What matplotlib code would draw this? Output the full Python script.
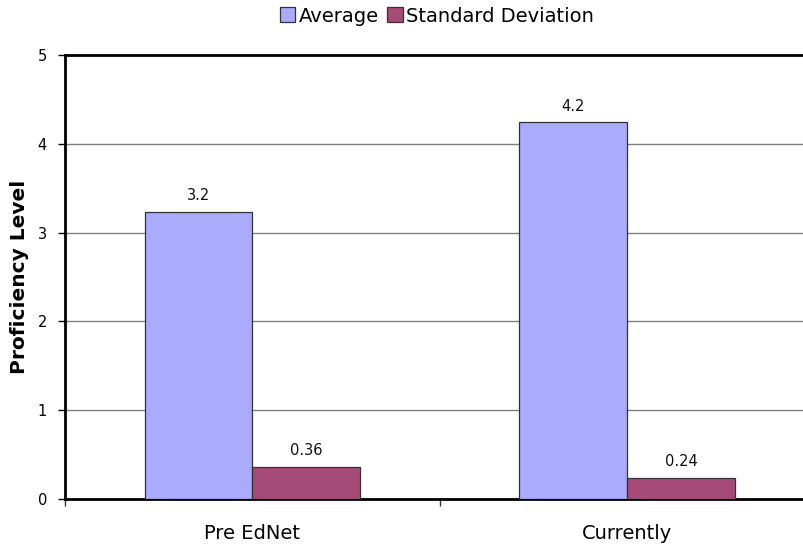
import matplotlib
matplotlib.use("Agg")
import matplotlib.pyplot as plt
import numpy as np

categories = ["Pre EdNet", "Currently"]
average = [3.23, 4.24]
std_dev = [0.36, 0.24]
series_names = ["Average", "Standard Deviation"]
colors = ["#AAAAFF", "#A64B77"]

plt.rcParams["font.family"] = ["DejaVu Sans"]

fig = plt.figure(figsize=(8.04, 5.5), dpi=100)
ax = fig.add_axes([65 / 804, 1 - 499 / 550, 750 / 804, 444 / 550])

x = np.arange(len(categories))
w = 0.288
b1 = ax.bar(x - w / 2, average, w, color=colors[0], edgecolor="#333333",
            linewidth=0.9, label=series_names[0], zorder=3)
b2 = ax.bar(x + w / 2, std_dev, w, color=colors[1], edgecolor="#333333",
            linewidth=0.9, label=series_names[1], zorder=3)

for bars, vals in ((b1, average), (b2, std_dev)):
    for r, v in zip(bars, vals):
        ax.text(r.get_x() + r.get_width() / 2, v + 0.1,
                f"{v:.2f}".rstrip("0") if v < 1 else f"{v:.1f}",
                ha="center", va="bottom", fontsize=10.5, color="#111111")

ax.set_xlim(-0.5, 1.5)
ax.set_ylim(0, 5)
ax.set_yticks(range(6))
ax.yaxis.grid(True, color="#808080", linewidth=1.0, zorder=0)
ax.set_axisbelow(True)

ax.set_xticks([-0.5, 0.5, 1.5])
ax.set_xticklabels([])
ax.set_xticks(x, minor=True)
ax.set_xticklabels(categories, minor=True, fontsize=14)
ax.tick_params(axis="x", which="minor", length=0, pad=18)
ax.tick_params(axis="x", which="major", length=5, width=1, color="#333333")
ax.tick_params(axis="y", length=5, width=1, labelsize=10.5, pad=8)

for side in ("left", "bottom", "top"):
    ax.spines[side].set_linewidth(2)
    ax.spines[side].set_color("black")
ax.spines["right"].set_visible(False)

ax.set_ylabel("Proficiency Level", fontsize=14.5, fontweight="bold", labelpad=6)

fig.legend(handles=[b1, b2], labels=series_names, loc="center",
           bbox_to_anchor=(437 / 804, 1 - 16 / 550), ncol=2, frameon=False,
           fontsize=14, handlelength=0.8, handleheight=0.8, handletextpad=0.2,
           columnspacing=0.4, borderaxespad=0)

fig.savefig("out.png", dpi=100)
